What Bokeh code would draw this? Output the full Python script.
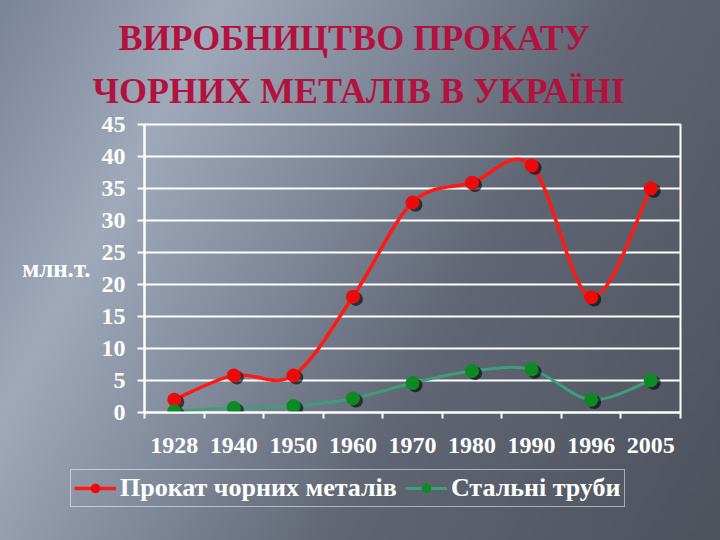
import numpy as np
from bokeh.plotting import figure
from bokeh.layouts import column
from bokeh.models import Range1d, FixedTicker, Legend, LegendItem, Title
from bokeh.embed import file_html
from bokeh.resources import INLINE

# data
years = ["1928", "1940", "1950", "1960", "1970", "1980", "1990", "1996", "2005"]
prokat = [2.0, 5.8, 5.8, 18.1, 32.8, 35.9, 38.6, 18.0, 35.0]
truby = [0.2, 0.7, 1.0, 2.2, 4.6, 6.5, 6.7, 2.0, 5.0]
y_ticks = [0, 5, 10, 15, 20, 25, 30, 35, 40, 45]

xs = np.arange(len(years)) + 0.5
FONT = "Liberation Serif"


def smooth(x, y):
    # Catmull-Rom style control points (like an Excel "smoothed line")
    x = np.asarray(x, float)
    y = np.asarray(y, float)
    px = np.concatenate([[x[0]], x, [x[-1]]])
    py = np.concatenate([[y[0]], y, [y[-1]]])
    n = len(x) - 1
    return dict(x0=x[:-1], y0=y[:-1], x1=x[1:], y1=y[1:],
                cx0=x[:-1] + (px[2:n + 2] - px[0:n]) / 6,
                cy0=y[:-1] + (py[2:n + 2] - py[0:n]) / 6,
                cx1=x[1:] - (px[3:n + 3] - px[1:n + 1]) / 6,
                cy1=y[1:] - (py[3:n + 3] - py[1:n + 1]) / 6)


p = figure(frame_width=536, frame_height=288,
           min_border_left=144, min_border_right=40,
           min_border_top=124, min_border_bottom=56,
           x_range=Range1d(0, len(years)), y_range=Range1d(0, 45),
           output_backend="svg", toolbar_location=None)

p.background_fill_alpha = 0
p.border_fill_alpha = 0
p.outline_line_color = "white"
p.outline_line_width = 2

# title, two lines (second one added first: it sits nearer the frame)
p.title = None
for txt, off, stand in [("ЧОРНИХ МЕТАЛІВ В УКРАЇНІ", -52, 28),
                        ("ВИРОБНИЦТВО ПРОКАТУ", -26, -6)]:
    p.add_layout(Title(text=txt, align="left", offset=off, standoff=stand,
                       text_font=FONT, text_font_style="bold",
                       text_font_size="36px", text_color="#b3123e"), "above")

# axes
p.xaxis.ticker = FixedTicker(ticks=list(xs), minor_ticks=list(range(len(years) + 1)))
p.xaxis.major_label_overrides = {float(t): yr for t, yr in zip(xs, years)}
p.xaxis.major_tick_out = 0
p.xaxis.major_tick_in = 0
p.xaxis.minor_tick_out = 6
p.xaxis.minor_tick_in = 0
p.xaxis.minor_tick_line_color = "white"
p.xaxis.minor_tick_line_width = 2
p.xaxis.major_label_standoff = 19

p.yaxis.ticker = FixedTicker(ticks=y_ticks)
p.yaxis.major_tick_out = 7
p.yaxis.major_tick_in = 0
p.yaxis.minor_tick_line_color = None
p.yaxis.major_tick_line_color = "white"
p.yaxis.major_tick_line_width = 2
p.yaxis.major_label_standoff = 12
p.yaxis.axis_label = "млн.т."
p.yaxis.axis_label_orientation = "horizontal"
p.yaxis.axis_label_standoff = 8
p.yaxis.axis_label_text_color = "white"
p.yaxis.axis_label_text_font = FONT
p.yaxis.axis_label_text_font_style = "bold"
p.yaxis.axis_label_text_font_size = "25px"

for ax in (p.xaxis, p.yaxis):
    ax.axis_line_color = "white"
    ax.axis_line_width = 2
    ax.major_label_text_color = "white"
    ax.major_label_text_font = FONT
    ax.major_label_text_font_style = "bold"
    ax.major_label_text_font_size = "24px"

p.xgrid.grid_line_color = None
p.ygrid.ticker = FixedTicker(ticks=y_ticks)
p.ygrid.grid_line_color = "white"
p.ygrid.grid_line_width = 2

# series
series = [(prokat, "Прокат чорних металів", "#ff1a14", "#ee0a0a", 3.5),
          (truby, "Стальні труби", "#3d9e78", "#0d8a24", 3)]
for vals, label, line_col, dot_col, lw in series:
    p.bezier(line_color=line_col, line_width=lw, **smooth(xs, vals))
    p.scatter(xs + 0.05, np.asarray(vals) - 0.35, size=14,
              fill_color="black", fill_alpha=0.6, line_color=None)
    p.scatter(xs, vals, size=14, fill_color=dot_col, line_color=None)

# legend strip under the chart (a bare figure, so the legend is not clipped);
# its ranges keep the series themselves out of view, only the legend shows
leg = figure(frame_width=720, frame_height=540 - (124 + 288 + 56),
             min_border=0, x_range=(-2, -1), y_range=(-2, -1),
             output_backend="svg", toolbar_location=None)
leg.axis.visible = False
leg.grid.grid_line_color = None
leg.outline_line_color = None
leg.background_fill_alpha = 0
leg.border_fill_alpha = 0
items = []
for vals, label, line_col, dot_col, lw in series:
    r_line = leg.line(xs, vals, line_color=line_col, line_width=lw)
    r_dot = leg.scatter(xs, vals, size=14, fill_color=dot_col, line_color=None)
    items.append(LegendItem(label=label, renderers=[r_line, r_dot]))

legend = Legend(items=items, orientation="horizontal", location=(70, 33),
                label_text_color="white", label_text_font=FONT,
                label_text_font_style="bold", label_text_font_size="26px",
                glyph_width=42, glyph_height=24, label_standoff=4, spacing=8,
                padding=3, margin=0,
                border_line_color="white", border_line_width=1.5,
                background_fill_alpha=0)
leg.add_layout(legend, "center")

page = column(p, leg, spacing=0)

html = file_html(page, INLINE)
css = ("<style>html,body{background:linear-gradient(118deg,#7a8497 0%,"
       "#a0a9ba 22%,#7f8899 42%,#5f6572 62%,#4d525d 100%);min-height:100%;}"
       "</style>")
html = html.replace("</head>", css + "</head>")
open("out.html", "w").write(html)
